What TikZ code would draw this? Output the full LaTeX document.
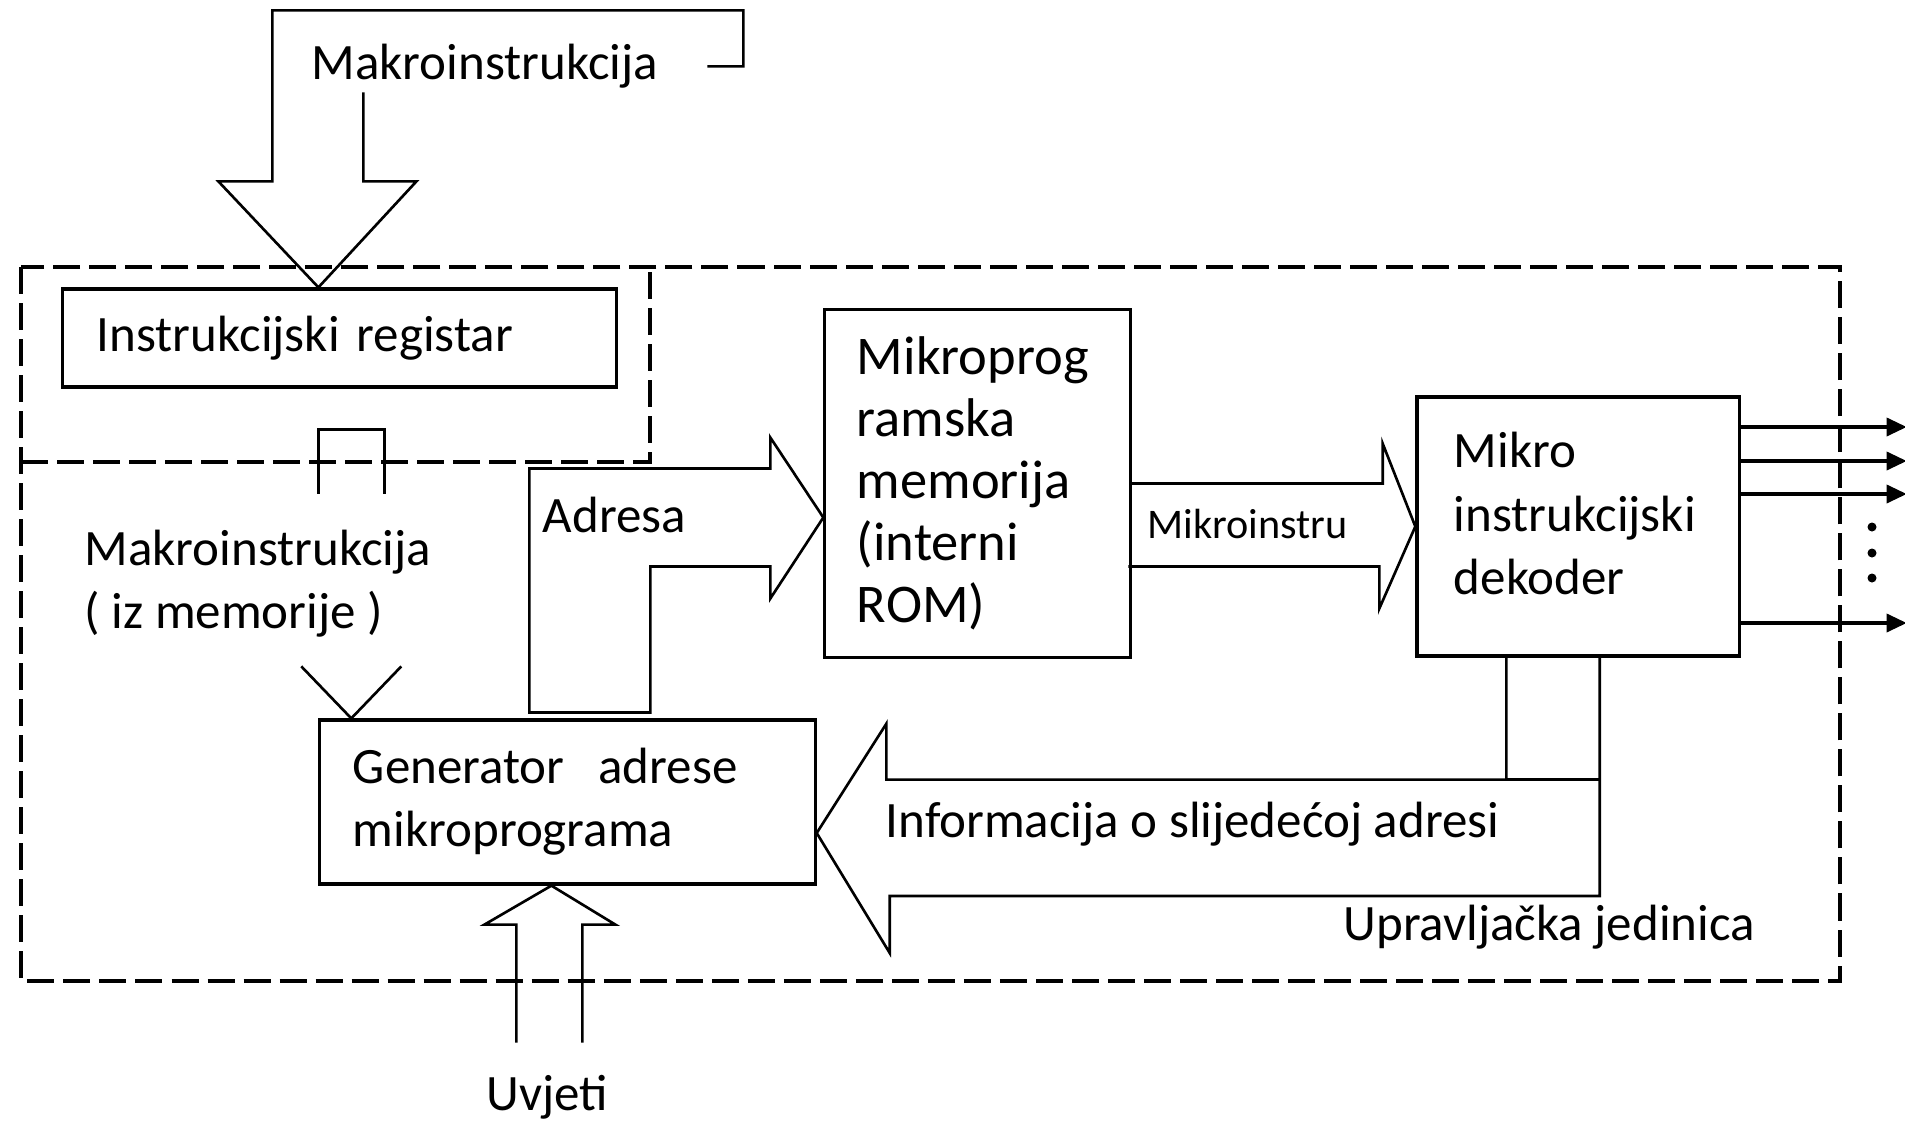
\documentclass[tikz,border=0pt]{standalone}
\usepackage{fontspec}
\setmainfont{Carlito}
\usetikzlibrary{positioning}
\usetikzlibrary{calc}
\usetikzlibrary{arrows.meta}
\tikzset{
  blok/.style={draw, line width=0.9pt, align=left},
  bigarr/.style={line width=0.75pt, line join=miter},
  okvir/.style={line width=0.9pt, dash pattern=on 0.27cm off 0.09cm},
  izlaz/.style={line width=1pt, -{Triangle[length=0.2cm,width=0.18cm]}},
  lbl/.style={inner sep=0pt, anchor=base west}
}

\begin{document}
\begin{tikzpicture}[x=0.01cm, y=-0.01cm, font=\fontsize{14.5}{18}\selectfont]
    \useasboundingbox (0,0) rectangle (1905,1121);
    %\draw [help lines] (0,0) grid (1905,1121);
    \draw [okvir] (21,267) rectangle (1840,981);
    \draw [okvir] (21,462) -- (650,462) -- (650,267);

    \node [blok, minimum width=5.53cm, minimum height=0.98cm, text width=4.85cm, inner xsep=0.34cm] (ir) at (339.5,338) {Instrukcijski registar};
    \node [blok, minimum width=3.05cm, minimum height=3.47cm, text width=2.41cm, inner xsep=0.32cm, font=\fontsize{15.5}{17.6}\selectfont] (mem) at (977.5,483.5) {Mikroprog\\ramska\\memorija\\(interni\\ROM)};
    \node [blok, minimum width=3.22cm, minimum height=2.59cm, text width=2.48cm, inner xsep=0.37cm] (dec) at (1578,526.5) {Mikro\\instrukcijski\\dekoder\par\vspace{0.26cm}\nointerlineskip\hbox{}};
    \node [blok, minimum width=4.95cm, minimum height=1.64cm, text width=4.29cm, inner xsep=0.33cm] (gen) at (567.5,802) {Generator\ \ adrese\\mikroprograma};

    \coordinate [right=2.57cm of ir.north west] (ir_in);
    \coordinate [right=2.57cm of ir.south west] (ir_out);
    \coordinate [right=0.33cm of gen.north west] (gen_in);
    \coordinate [right=2.33cm of gen.south west] (gen_cond);
    \coordinate [below=0.31cm of gen.east] (gen_fb);
    \coordinate [below=0.34cm of mem.west] (mem_in);
    \coordinate [right=0.91cm of dec.south west] (dec_out);

    \node [lbl] (makro_top) at (311,79) {Makroinstrukcija};
    \node [inner sep=0pt, anchor=west, align=left] (makro_mem) at (84,584) {Makroinstrukcija\\( iz memorije )};
    \node [lbl] (adr_label) at (542,532) {Adresa};
    \node [lbl, font=\fontsize{12}{14}\selectfont] (mi_label) at (1147,538) {Mikroinstru};
    \node [lbl] (info_label) at (885,837) {Informacija o slijedećoj adresi};
    \node [lbl] (uj_label) at (1343,940) {Upravljačka jedinica};
    \node [lbl] (uvjeti) at (486,1110) {Uvjeti};

    % makroinstrukcija u registar
    \draw [bigarr] (ir_in) ++(45,-195) -- ++(0,89) -- ++(53,0) -- (ir_in) -- ++(-100,-106) -- ++(54,0) -- ++(0,-171) -- ++(471,0) -- ++(0,56) -- ++(-36,0);
    \draw [bigarr] (ir_out) ++(0,105) -- ++(0,-64) -- ++(66,0) -- ++(0,64);
    \draw [bigarr] (gen_in) ++(-50,-52) -- (gen_in) -- ++(50,-52);

    % adresa
    \draw [bigarr] (mem_in) -- ++(-53,-80) -- ++(0,31) -- ++(-241,0) -- ++(0,244) -- ++(121,0) -- ++(0,-146) -- ++(120,0) -- ++(0,32) -- cycle;

    % mikroinstrukcija
    \draw [bigarr] (mem.east) -- ++(251,0) -- ++(0,-40) -- (dec.west) -- ++(-36,82) -- ++(0,-42) -- ++(-251,0);

    % povratna informacija
    \draw [bigarr] (dec_out) -- ++(0,122) coordinate (fb_a) -- ++(-620,0) -- ++(0,-56) -- (gen_fb) -- ++(73,120) -- ++(0,-57) -- ++(710,0) coordinate (fb_b) -- (fb_b |- dec.south);
    \draw [bigarr] (fb_a) -- (fb_a -| fb_b);

    % uvjeti
    \draw [bigarr] (gen_cond) ++(-35,157) -- ++(0,-118) -- ++(-32,0) -- (gen_cond) -- ++(64,39) -- ++(-33,0) -- ++(0,118);

    \foreach \dy in {-99.5,-65.5,-32.5,96.5}
        \draw [izlaz] (dec.east) ++(0,\dy) -- ++(166,0);
    \foreach \y in {527,553,578}
        \fill (1872,\y) circle [radius=0.045cm];

\end{tikzpicture}
\end{document}
